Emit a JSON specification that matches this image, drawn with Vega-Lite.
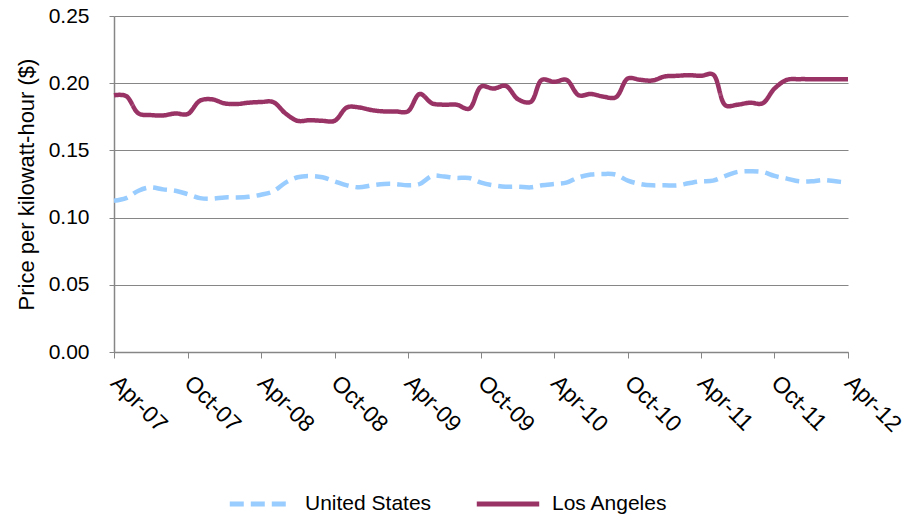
{
  "$schema": "https://vega.github.io/schema/vega-lite/v6.json",
  "autosize": {"type": "none"},
  "width": 734,
  "height": 336,
  "padding": {"left": 114, "top": 16, "right": 59, "bottom": 166},
  "background": "white",
  "data": {"values": [
    {"date": "2007/04/01", "United States": 0.1125, "Los Angeles": 0.191},
    {"date": "2007/05/01", "United States": 0.1145, "Los Angeles": 0.1905},
    {"date": "2007/06/01", "United States": 0.120, "Los Angeles": 0.1775},
    {"date": "2007/07/01", "United States": 0.1225, "Los Angeles": 0.1763},
    {"date": "2007/08/01", "United States": 0.121, "Los Angeles": 0.176},
    {"date": "2007/09/01", "United States": 0.120, "Los Angeles": 0.1775},
    {"date": "2007/10/01", "United States": 0.1175, "Los Angeles": 0.177},
    {"date": "2007/11/01", "United States": 0.1145, "Los Angeles": 0.187},
    {"date": "2007/12/01", "United States": 0.114, "Los Angeles": 0.188},
    {"date": "2008/01/01", "United States": 0.115, "Los Angeles": 0.185},
    {"date": "2008/02/01", "United States": 0.115, "Los Angeles": 0.1845},
    {"date": "2008/03/01", "United States": 0.1155, "Los Angeles": 0.1855},
    {"date": "2008/04/01", "United States": 0.117, "Los Angeles": 0.186},
    {"date": "2008/05/01", "United States": 0.1195, "Los Angeles": 0.186},
    {"date": "2008/06/01", "United States": 0.126, "Los Angeles": 0.1775},
    {"date": "2008/07/01", "United States": 0.130, "Los Angeles": 0.172},
    {"date": "2008/08/01", "United States": 0.131, "Los Angeles": 0.1725},
    {"date": "2008/09/01", "United States": 0.130, "Los Angeles": 0.172},
    {"date": "2008/10/01", "United States": 0.127, "Los Angeles": 0.172},
    {"date": "2008/11/01", "United States": 0.124, "Los Angeles": 0.182},
    {"date": "2008/12/01", "United States": 0.1225, "Los Angeles": 0.182},
    {"date": "2009/01/01", "United States": 0.124, "Los Angeles": 0.180},
    {"date": "2009/02/01", "United States": 0.125, "Los Angeles": 0.179},
    {"date": "2009/03/01", "United States": 0.125, "Los Angeles": 0.179},
    {"date": "2009/04/01", "United States": 0.124, "Los Angeles": 0.179},
    {"date": "2009/05/01", "United States": 0.125, "Los Angeles": 0.192},
    {"date": "2009/06/01", "United States": 0.131, "Los Angeles": 0.185},
    {"date": "2009/07/01", "United States": 0.1305, "Los Angeles": 0.184},
    {"date": "2009/08/01", "United States": 0.1295, "Los Angeles": 0.184},
    {"date": "2009/09/01", "United States": 0.1295, "Los Angeles": 0.181},
    {"date": "2009/10/01", "United States": 0.126, "Los Angeles": 0.1975},
    {"date": "2009/11/01", "United States": 0.124, "Los Angeles": 0.196},
    {"date": "2009/12/01", "United States": 0.123, "Los Angeles": 0.198},
    {"date": "2010/01/01", "United States": 0.123, "Los Angeles": 0.188},
    {"date": "2010/02/01", "United States": 0.1225, "Los Angeles": 0.186},
    {"date": "2010/03/01", "United States": 0.124, "Los Angeles": 0.2025},
    {"date": "2010/04/01", "United States": 0.125, "Los Angeles": 0.201},
    {"date": "2010/05/01", "United States": 0.126, "Los Angeles": 0.2025},
    {"date": "2010/06/01", "United States": 0.130, "Los Angeles": 0.191},
    {"date": "2010/07/01", "United States": 0.132, "Los Angeles": 0.192},
    {"date": "2010/08/01", "United States": 0.1325, "Los Angeles": 0.190},
    {"date": "2010/09/01", "United States": 0.132, "Los Angeles": 0.1895},
    {"date": "2010/10/01", "United States": 0.1275, "Los Angeles": 0.2035},
    {"date": "2010/11/01", "United States": 0.125, "Los Angeles": 0.2025},
    {"date": "2010/12/01", "United States": 0.124, "Los Angeles": 0.202},
    {"date": "2011/01/01", "United States": 0.124, "Los Angeles": 0.205},
    {"date": "2011/02/01", "United States": 0.124, "Los Angeles": 0.2055},
    {"date": "2011/03/01", "United States": 0.1255, "Los Angeles": 0.206},
    {"date": "2011/04/01", "United States": 0.127, "Los Angeles": 0.2055},
    {"date": "2011/05/01", "United States": 0.1275, "Los Angeles": 0.2065},
    {"date": "2011/06/01", "United States": 0.131, "Los Angeles": 0.1835},
    {"date": "2011/07/01", "United States": 0.134, "Los Angeles": 0.184},
    {"date": "2011/08/01", "United States": 0.1345, "Los Angeles": 0.1855},
    {"date": "2011/09/01", "United States": 0.134, "Los Angeles": 0.185},
    {"date": "2011/10/01", "United States": 0.131, "Los Angeles": 0.196},
    {"date": "2011/11/01", "United States": 0.129, "Los Angeles": 0.2025},
    {"date": "2011/12/01", "United States": 0.127, "Los Angeles": 0.203},
    {"date": "2012/01/01", "United States": 0.127, "Los Angeles": 0.203},
    {"date": "2012/02/01", "United States": 0.128, "Los Angeles": 0.203},
    {"date": "2012/03/01", "United States": 0.127, "Los Angeles": 0.203},
    {"date": "2012/04/01", "United States": 0.126, "Los Angeles": 0.203}
  ]},
  "transform": [{"fold": ["United States", "Los Angeles"], "as": ["series", "price"]}],
  "mark": {"type": "line", "strokeWidth": 4.5, "interpolate": "catmull-rom"},
  "encoding": {
    "x": {
      "field": "date", "type": "temporal",
      "scale": {"domain": [{"year": 2007, "month": 4, "date": 1}, {"year": 2012, "month": 4, "date": 1}]},
      "axis": {
        "title": null,
        "format": "%b-%y",
        "values": [
          {"year": 2007, "month": 4, "date": 1}, {"year": 2007, "month": 10, "date": 1},
          {"year": 2008, "month": 4, "date": 1}, {"year": 2008, "month": 10, "date": 1},
          {"year": 2009, "month": 4, "date": 1}, {"year": 2009, "month": 10, "date": 1},
          {"year": 2010, "month": 4, "date": 1}, {"year": 2010, "month": 10, "date": 1},
          {"year": 2011, "month": 4, "date": 1}, {"year": 2011, "month": 10, "date": 1},
          {"year": 2012, "month": 4, "date": 1}
        ],
        "grid": false,
        "labelAngle": 45,
        "labelAlign": "left",
        "labelBaseline": "middle",
        "labelPadding": 21,
        "labelFontSize": 23,
        "tickSize": 6,
        "labelOverlap": false,
        "labelFlush": false
      }
    },
    "y": {
      "field": "price", "type": "quantitative",
      "scale": {"domain": [0, 0.25], "nice": false},
      "axis": {
        "title": "Price per kilowatt-hour ($)",
        "values": [0, 0.05, 0.1, 0.15, 0.2, 0.25],
        "format": ".2f",
        "grid": true,
        "tickSize": 5,
        "labelPadding": 20,
        "labelFontSize": 21,
        "titleFontSize": 22,
        "titleFontWeight": "normal",
        "titlePadding": 10
      }
    },
    "color": {
      "field": "series", "type": "nominal",
      "scale": {"domain": ["United States", "Los Angeles"], "range": ["#99CCFF", "#993366"]},
      "legend": {
        "title": null,
        "orient": "none",
        "legendX": 113,
        "legendY": 454,
        "direction": "horizontal",
        "columnPadding": 34
      }
    },
    "strokeDash": {
      "field": "series", "type": "nominal",
      "scale": {"domain": ["United States", "Los Angeles"], "range": [[14, 7], [1, 0]]},
      "legend": {
        "title": null,
        "orient": "none",
        "legendX": 113,
        "legendY": 454,
        "direction": "horizontal",
        "columnPadding": 34
      }
    }
  },
  "config": {
    "font": "Liberation Sans",
    "view": {"stroke": null},
    "axis": {
      "domainColor": "#868686",
      "tickColor": "#868686",
      "gridColor": "#868686",
      "gridOpacity": 1,
      "domainWidth": 1.5,
      "labelColor": "#000000",
      "titleColor": "#000000",
      "labelFont": "Liberation Sans",
      "titleFont": "Liberation Sans"
    },
    "legend": {
      "symbolType": "stroke",
      "symbolSize": 3900,
      "symbolStrokeWidth": 5,
      "labelFontSize": 21,
      "labelColor": "#000000",
      "labelFont": "Liberation Sans",
      "labelOffset": 10,
      "padding": 0
    }
  }
}
